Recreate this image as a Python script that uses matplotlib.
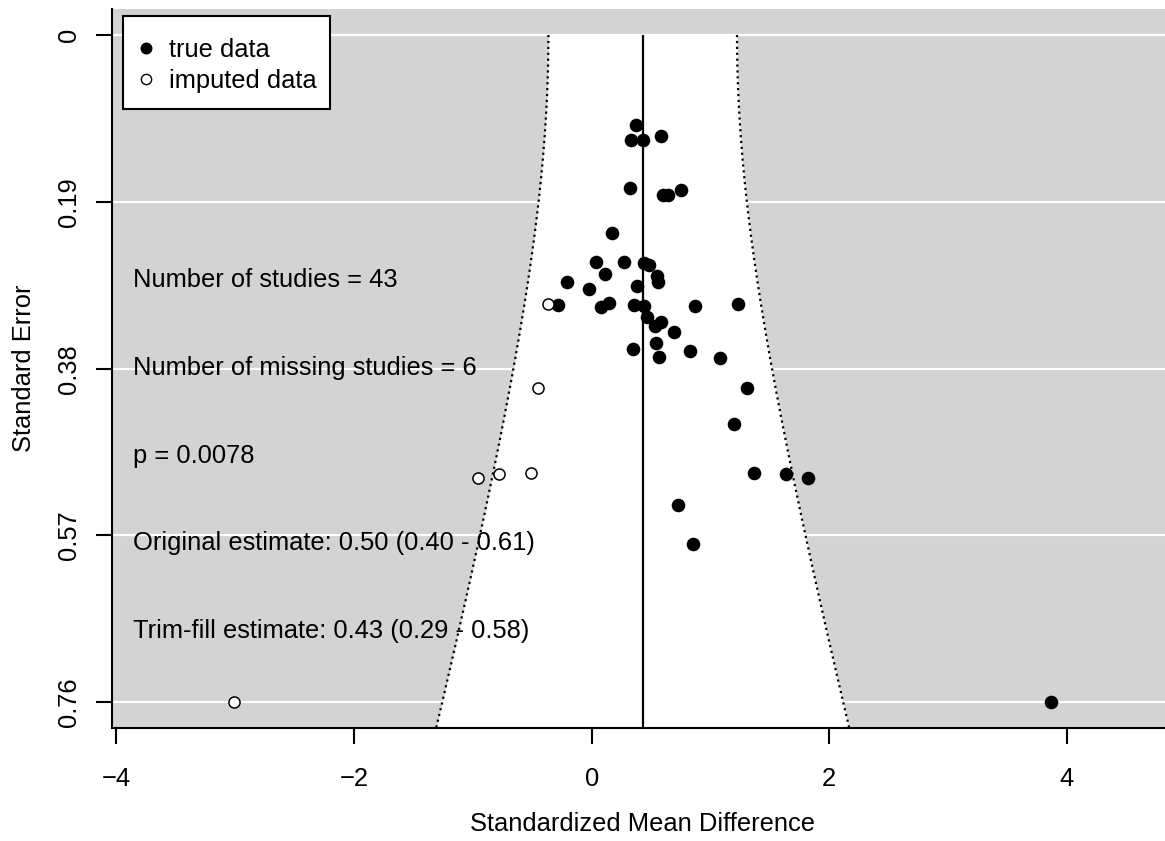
import numpy as np
import matplotlib
matplotlib.use("Agg")
import matplotlib.pyplot as plt
from matplotlib.lines import Line2D
from matplotlib.patches import Rectangle

plt.rcParams['font.family'] = ['Liberation Sans', 'DejaVu Sans']

# ---- data ----
true_smd = [0.37, 0.33, 0.43, 0.58, 0.32, 0.60, 0.64, 0.75,
            0.17, 0.04, 0.27, 0.44, 0.48, 0.11, 0.55, 0.56, -0.21, -0.02, 0.38,
            -0.28, 0.08, 0.15, 0.36, 0.44, 0.87, 1.23,
            0.47, 0.58, 0.53, 0.69, 0.54, 0.35, 0.57, 0.83, 1.08,
            1.31, 1.20, 1.37, 1.64, 1.82, 0.73, 0.85, 3.87]
true_se = [0.102, 0.119, 0.120, 0.115, 0.174, 0.182, 0.182, 0.176,
           0.225, 0.258, 0.258, 0.260, 0.262, 0.272, 0.275, 0.281, 0.281, 0.289, 0.286,
           0.307, 0.310, 0.305, 0.308, 0.309, 0.309, 0.306,
           0.321, 0.327, 0.331, 0.338, 0.351, 0.358, 0.367, 0.360, 0.368,
           0.402, 0.443, 0.499, 0.500, 0.504, 0.535, 0.580, 0.760]
imputed_smd = [-0.37, -0.45, -0.51, -0.78, -0.96, -3.01]
imputed_se = [0.306, 0.402, 0.499, 0.500, 0.504, 0.760]

trimfill_estimate = 0.43
tau2 = 0.164
se_max = 0.76

x_ticks = [-4, -2, 0, 2, 4]
y_ticks = [0, 0.19, 0.38, 0.57, 0.76]
y_tick_labels = ['0', '0.19', '0.38', '0.57', '0.76']

annotations = ["Number of studies = 43",
               "Number of missing studies = 6",
               "p = 0.0078",
               "Original estimate: 0.50 (0.40 - 0.61)",
               "Trim-fill estimate: 0.43 (0.29 - 0.58)"]
annotation_y = [0.287, 0.387, 0.487, 0.587, 0.687]

# ---- figure ----
W, H = 1165, 841
fig = plt.figure(figsize=(W / 100, H / 100), dpi=100)
left_px, right_px, top_px, bottom_px = 111.7, 1173, 9, 728
ax = fig.add_axes([left_px / W, 1 - bottom_px / H,
                   (right_px - left_px) / W, (bottom_px - top_px) / H])

ylo = se_max * 1.0385
yhi = -se_max * 0.039
ax.set_xlim(-4.04, 4.894)
ax.set_ylim(ylo, yhi)
ax.set_facecolor('#D3D3D3')

# grid lines (under funnel)
ax.set_axisbelow(True)
ax.yaxis.grid(True, color='white', lw=1.6)
ax.xaxis.grid(False)

# funnel
se_grid = np.linspace(0, ylo, 300)
half = 1.96 * np.sqrt(se_grid ** 2 + tau2)
lower = trimfill_estimate - half
upper = trimfill_estimate + half
ax.fill_betweenx(se_grid, lower, upper, color='white', lw=0, zorder=2)
ax.plot(lower, se_grid, ls=':', color='black', lw=1.6, zorder=3)
ax.plot(upper, se_grid, ls=':', color='black', lw=1.6, zorder=3)
ax.vlines(trimfill_estimate, 0, ylo, color='black', lw=1.6, zorder=3)

# points
ax.plot(true_smd, true_se, ls='', marker='o', ms=9.8, mfc='black',
        mec='black', mew=0, zorder=5)
ax.plot(imputed_smd, imputed_se, ls='', marker='o', ms=8.0, mfc='white',
        mec='black', mew=1.1, zorder=5)

FS = 18.4
for txt, yy in zip(annotations, annotation_y):
    ax.text(-3.863, yy, txt, fontsize=FS, ha='left', va='baseline', zorder=4)

# axes
for s in ['top', 'right']:
    ax.spines[s].set_visible(False)
for s in ['left', 'bottom']:
    ax.spines[s].set_linewidth(1.5)
    ax.spines[s].set_color('black')
    ax.spines[s].set_zorder(6)

ax.set_xticks(x_ticks)
ax.set_yticks(y_ticks)
ax.set_yticklabels(y_tick_labels, rotation=90, va='center')
ax.tick_params(axis='both', length=11.3, width=1.5, color='black',
               labelsize=FS, labelcolor='black')
ax.tick_params(axis='x', pad=17)
ax.tick_params(axis='y', pad=11)

ax.set_xlabel('Standardized Mean Difference', fontsize=FS)
ax.xaxis.set_label_coords(0.5, -0.1168)
ax.set_ylabel('Standard Error', fontsize=FS)
ax.yaxis.set_label_coords(-0.0711, 0.5)

# legend: box drawn as a rectangle, entries by the legend
lx0, ly0, lx1, ly1 = 122.7, 16, 330, 108.7
box = Rectangle((lx0 / W, 1 - ly1 / H), (lx1 - lx0) / W, (ly1 - ly0) / H,
                transform=fig.transFigure, facecolor='white', edgecolor='black',
                lw=1.5, zorder=9, clip_on=False)
ax.add_patch(box)
handles = [Line2D([], [], ls='', marker='o', ms=8.6, mfc='black', mec='black', mew=0),
           Line2D([], [], ls='', marker='o', ms=7.4, mfc='white', mec='black', mew=1.0)]
leg = ax.legend(handles, ['true data', 'imputed data'], loc='upper left',
                bbox_to_anchor=(lx0 / W, 1 - ly0 / H), bbox_transform=fig.transFigure,
                borderaxespad=0, frameon=False, borderpad=0.87,
                handlelength=0.055, handletextpad=0.895,
                labelspacing=0.26, fontsize=FS)
leg.set_zorder(10)

fig.savefig('out.png', dpi=100)
